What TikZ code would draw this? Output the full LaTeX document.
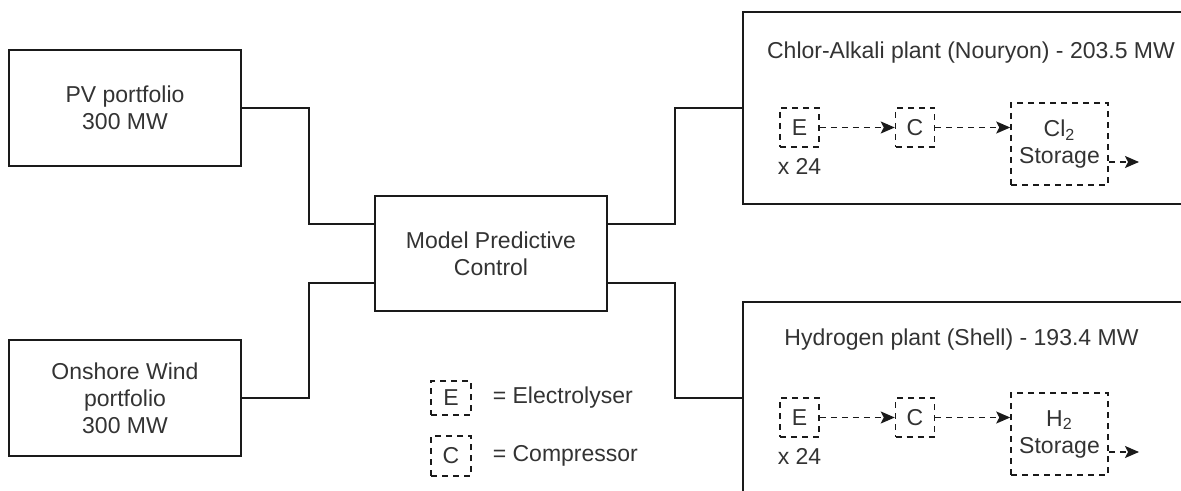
\documentclass[tikz,border=0pt]{standalone}
\usepackage{fontspec}
\setmainfont{Liberation Sans}
\usepackage{tikz}
\usetikzlibrary{arrows.meta,positioning,calc}
\definecolor{txtgray}{HTML}{333333}
\definecolor{linegray}{HTML}{1A1A1A}
\tikzset{
  unitbox/.style={rectangle, draw=linegray, line width=1pt, text=txtgray, align=center,
                  minimum width=116pt, minimum height=58pt, inner sep=0pt},
  plantbox/.style={rectangle, draw=linegray, line width=1pt, minimum width=228.5pt,
                   minimum height=96pt, inner sep=0pt},
  dashbox/.style={rectangle, draw=linegray, dash pattern=on 3pt off 2.5pt, line width=0.75pt,
                  text=txtgray, align=center, minimum width=19.5pt, minimum height=19.5pt, inner sep=0pt},
  txt/.style={text=txtgray, align=center},
  link/.style={line width=1pt, draw=linegray},
  flow/.style={-{Stealth[length=7pt,width=6pt,inset=1.5pt]}, dash pattern=on 3pt off 2.5pt,
               line width=0.75pt, draw=linegray},
}
\begin{document}
\begin{tikzpicture}[x=0.5pt, y=-0.5pt, font=\fontsize{11.5}{13.5}\selectfont]
    \useasboundingbox (0,0) rectangle (1181,491);
    \clip (0,0) rectangle (1181,491);
    % sources and controller
    \node[unitbox] (pv) at (125,108) {PV portfolio\\300 MW};
    \node[unitbox] (wind) at (125,398) {Onshore Wind\\portfolio\\300 MW};
    \node[unitbox, minimum height=57.5pt] (mpc) at (491,253.5) {Model Predictive\\Control};
    \coordinate (mpcin1) at ($(mpc.north west)!0.25!(mpc.south west)$);
    \coordinate (mpcin2) at ($(mpc.north west)!0.75!(mpc.south west)$);
    \coordinate (mpcout1) at ($(mpc.north east)!0.25!(mpc.south east)$);
    \coordinate (mpcout2) at ($(mpc.north east)!0.75!(mpc.south east)$);
    % plants
    \node[plantbox] (chlor) at (971.5,108) {};
    \node[plantbox] (hydro) at (971.5,398) {};
    \node[txt] (chlortitle) at (971,53) {Chlor-Alkali plant (Nouryon) - 203.5 MW};
    \node[txt] (hydrotitle) at (961.5,340) {Hydrogen plant (Shell) - 193.4 MW};
    % chlor-alkali chain
    \node[dashbox] (e1) at (799.5,127.5) {E};
    \node[dashbox] (c1) at (915,127.5) {C};
    \node[dashbox, minimum width=48.5pt, minimum height=41pt] (st1) at (1059.5,144)
      {Cl\textsubscript{2}\\Storage};
    \node[txt, below=2pt of e1] (n1) {x 24};
    \coordinate (out1) at (1139,162);
    % hydrogen chain
    \node[dashbox] (e2) at (799.5,417.5) {E};
    \node[dashbox] (c2) at (915,417.5) {C};
    \node[dashbox, minimum width=48.5pt, minimum height=41pt] (st2) at (1059.5,434)
      {H\textsubscript{2}\\Storage};
    \node[txt, below=2pt of e2] (n2) {x 24};
    \coordinate (out2) at (1139,452);
    % legend
    \node[dashbox, minimum width=20pt, minimum height=17pt] (le) at (451,398) {E};
    \node[dashbox, minimum width=20pt, minimum height=20pt] (lc) at (451,456) {C};
    \node[txt, right=7pt of le] (letxt) {= Electrolyser};
    \node[txt, right=7pt of lc] (lctxt) {= Compressor};
    % connectors
    \draw[link] (pv.east) -- ++(67,0) |- (mpcin1);
    \draw[link] (wind.east) -- ++(67,0) |- (mpcin2);
    \draw[link] (mpcout1) -- ++(67,0) |- (chlor.west);
    \draw[link] (mpcout2) -- ++(67,0) |- (hydro.west);
    \draw[flow] (e1) -- (c1);
    \draw[flow] (c1.east) -- (c1.east -| st1.west);
    \draw[flow] (st1.east |- out1) -- (out1);
    \draw[flow] (e2) -- (c2);
    \draw[flow] (c2.east) -- (c2.east -| st2.west);
    \draw[flow] (st2.east |- out2) -- (out2);
  \end{tikzpicture}
\end{document}
